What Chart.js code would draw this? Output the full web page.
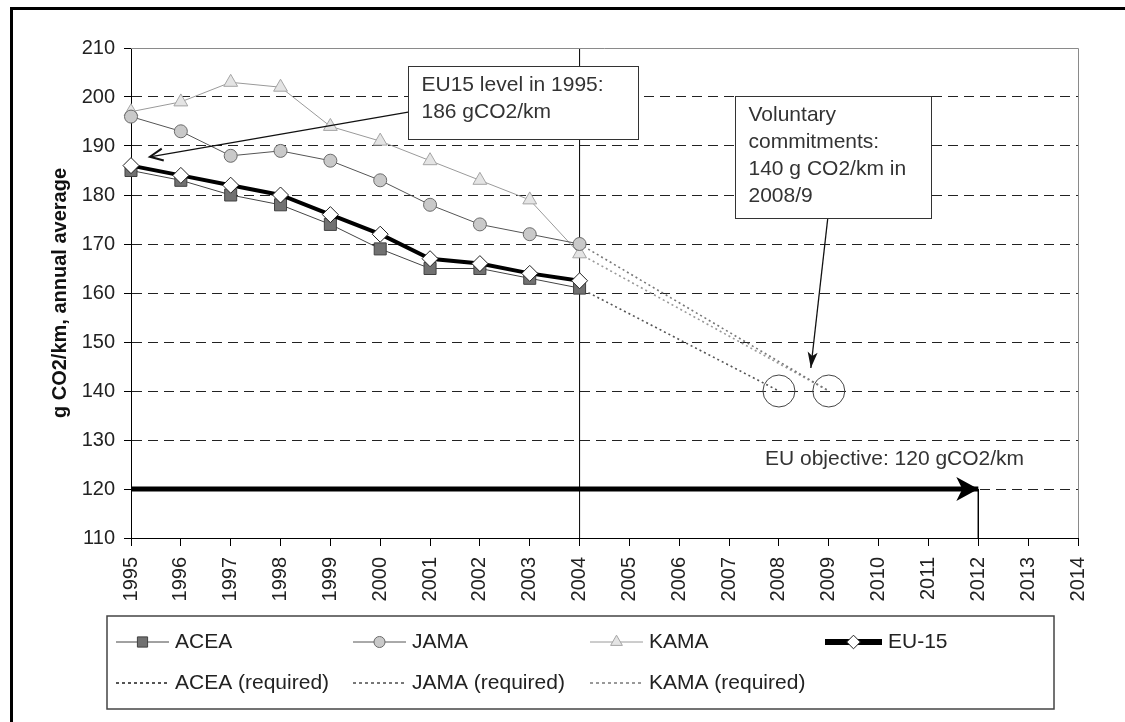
<!DOCTYPE html>
<html>
<head>
<meta charset="utf-8">
<title>CO2 emissions of new cars</title>
<script src="https://cdn.jsdelivr.net/npm/chart.js@4.4.1/dist/chart.umd.min.js"></script>
<style>
    html, body { margin: 0; padding: 0; background: #fff; overflow: hidden; }
    #wrap { position: relative; width: 1125px; height: 722px; overflow: hidden; background: #fff; }
    #frame {
        position: absolute; left: 10px; top: 7px; width: 1200px; height: 800px;
        border-left: 3px solid #000; border-top: 3px solid #000;
    }
    #myChart { position: absolute; left: 0; top: 0; display: block; }
</style>
</head>
<body>
<div id="wrap"><div id="frame"></div><canvas id="myChart" width="1125" height="722"></canvas></div>
<script>
// ---- data ----
const years = [1995, 1996, 1997, 1998, 1999, 2000, 2001, 2002, 2003, 2004];
const acea = [185, 183, 180, 178, 174, 169, 165, 165, 163, 161];
const jama = [196, 193, 188, 189, 187, 183, 178, 174, 172, 170];
const kama = [197, 199, 203, 202, 194, 191, 187, 183, 179, 168];
const eu15 = [186, 184, 182, 180, 176, 172, 167, 166, 164, 162.5];

const aceaRequiredYears = [2004, 2008];
const aceaRequired = [161, 140];
const jamaRequiredYears = [2004, 2009];
const jamaRequired = [170, 140];
const kamaRequiredYears = [2004, 2009];
const kamaRequired = [168, 140];

const targetYears = [2008, 2009];
const targetValues = [140, 140];

const objectiveYears = [1995, 2012];
const objectiveValue = 120;
const markerYear = 2004;

const xMin = 1995, xMax = 2014, xStep = 1;
const yMin = 110, yMax = 210, yStep = 10;

const FONT = "'Liberation Sans', Arial, Helvetica, sans-serif";
Chart.defaults.font.family = FONT;
Chart.defaults.color = '#222';

function pts(xs, ys) {
    return xs.map((x, i) => ({ x: x, y: ys[i] }));
}

// callouts placed in data units, mapped through the scales when drawn
const callouts = [
    {
        box: [2000.56, 206.3, 2005.17, 191.4],
        lines: ['EU15 level in 1995:', '186 gCO2/km'],
        from: [2000.56, 196.9], to: [1995.38, 187.8], head: 'open'
    },
    {
        box: [2007.12, 200.2, 2011.05, 175.3],
        lines: ['Voluntary', 'commitments:', '140 g CO2/km in', '2008/9'],
        from: [2008.98, 175.3], to: [2008.64, 144.7], head: 'filled'
    }
];
const objectiveLabel = { x: 2007.72, y: 126.1, text: 'EU objective: 120 gCO2/km' };

// legend layout (pixels)
const legendBox = { x: 107, y: 616, w: 947, h: 93 };
const legendRows = [
    { y: 642, items: [['ACEA', 116, 53], ['JAMA', 353, 53], ['KAMA', 590, 53], ['EU-15', 825, 57]] },
    { y: 683, items: [['ACEA (required)', 116, 53], ['JAMA (required)', 353, 53], ['KAMA (required)', 590, 53]] }
];

function arrowHead(ctx, x1, y1, x2, y2, len, half, notch, filled) {
    const ang = Math.atan2(y2 - y1, x2 - x1);
    const c = Math.cos(ang), s = Math.sin(ang);
    const bx = x2 - c * len, by = y2 - s * len;
    const p1 = [bx - s * half, by + c * half];
    const p2 = [bx + s * half, by - c * half];
    ctx.beginPath();
    if (filled) {
        ctx.moveTo(x2, y2);
        ctx.lineTo(p1[0], p1[1]);
        ctx.lineTo(x2 - c * (len - notch), y2 - s * (len - notch));
        ctx.lineTo(p2[0], p2[1]);
        ctx.closePath();
        ctx.fill();
    } else {
        ctx.moveTo(p1[0], p1[1]);
        ctx.lineTo(x2, y2);
        ctx.lineTo(p2[0], p2[1]);
        ctx.stroke();
    }
    ctx.beginPath();
}

const overlay = {
    id: 'overlay',
    afterDraw(chart) {
        const ctx = chart.ctx;
        const a = chart.chartArea;
        const xs = chart.scales.x, ys = chart.scales.y;
        const px = v => xs.getPixelForValue(v);
        const py = v => ys.getPixelForValue(v);
        ctx.save();

        // plot frame, top and right
        const t = Math.round(a.top) + 0.5, r = Math.round(a.right) + 0.5;
        ctx.strokeStyle = '#8a8a8a';
        ctx.lineWidth = 1;
        ctx.beginPath();
        ctx.moveTo(a.left, t);
        ctx.lineTo(r, t);
        ctx.lineTo(r, a.bottom);
        ctx.stroke();

        // head of the objective arrow
        ctx.fillStyle = '#000';
        arrowHead(ctx, px(objectiveYears[0]), py(objectiveValue),
            px(objectiveYears[1]), py(objectiveValue), 22, 12, 6, true);

        // callouts
        callouts.forEach(c => {
            const x1 = px(c.from[0]), y1 = py(c.from[1]);
            const x2 = px(c.to[0]), y2 = py(c.to[1]);
            ctx.strokeStyle = '#111';
            ctx.fillStyle = '#111';
            ctx.lineWidth = 1.3;
            ctx.beginPath();
            ctx.moveTo(x1, y1);
            ctx.lineTo(x2, y2);
            ctx.stroke();
            if (c.head === 'open') {
                ctx.lineWidth = 2;
                arrowHead(ctx, x1, y1, x2, y2, 13, 6, 0, false);
            } else {
                arrowHead(ctx, x1, y1, x2, y2, 16, 5, 4, true);
            }
            const bx = Math.round(px(c.box[0])) + 0.5, by = Math.round(py(c.box[1])) + 0.5;
            const bw = Math.round(px(c.box[2]) - px(c.box[0]));
            const bh = Math.round(py(c.box[3]) - py(c.box[1]));
            ctx.fillStyle = '#fff';
            ctx.fillRect(bx, by, bw, bh);
            ctx.strokeStyle = '#333';
            ctx.lineWidth = 1;
            ctx.strokeRect(bx, by, bw, bh);
            ctx.fillStyle = '#333';
            ctx.font = '21px ' + FONT;
            ctx.textBaseline = 'middle';
            ctx.textAlign = 'left';
            c.lines.forEach((line, i) => ctx.fillText(line, bx + 13, by + 19 + i * 27));
        });

        ctx.fillStyle = '#333';
        ctx.font = '21px ' + FONT;
        ctx.textBaseline = 'middle';
        ctx.fillText(objectiveLabel.text, px(objectiveLabel.x), py(objectiveLabel.y));

        // legend
        ctx.fillStyle = '#fff';
        ctx.fillRect(legendBox.x, legendBox.y, legendBox.w, legendBox.h);
        ctx.strokeStyle = '#444';
        ctx.lineWidth = 1.5;
        ctx.strokeRect(legendBox.x, legendBox.y, legendBox.w, legendBox.h);
        legendRows.forEach(row => {
            row.items.forEach(([label, x0, len]) => {
                const ds = chart.data.datasets.find(d => d.label === label);
                ctx.save();
                ctx.strokeStyle = ds.borderColor;
                ctx.lineWidth = label === 'EU-15' ? 6 : (ds.borderDash ? 2 : ds.borderWidth);
                ctx.setLineDash(ds.borderDash ? [3, 3] : []);
                ctx.beginPath();
                ctx.moveTo(x0, row.y);
                ctx.lineTo(x0 + len, row.y);
                ctx.stroke();
                ctx.setLineDash([]);
                if (ds.pointRadius > 0) {
                    ctx.fillStyle = ds.pointBackgroundColor;
                    ctx.strokeStyle = ds.pointBorderColor;
                    ctx.lineWidth = ds.pointBorderWidth;
                    Chart.helpers.drawPoint(ctx, {
                        pointStyle: ds.pointStyle, radius: ds.pointRadius * 0.85,
                        borderWidth: ds.pointBorderWidth, rotation: 0
                    }, x0 + len / 2, row.y);
                }
                ctx.restore();
                ctx.fillStyle = '#222';
                ctx.font = '21px ' + FONT;
                ctx.textBaseline = 'middle';
                ctx.fillText(label, x0 + len + 6, row.y);
            });
        });
        ctx.beginPath();
        ctx.restore();
    }
};

let ctx = document.getElementById('myChart').getContext('2d');
let myChart = new Chart(ctx, {
    type: 'line',
    data: {
        datasets: [
            {
                label: 'EU-15', data: pts(years, eu15), order: 0,
                borderColor: '#000', borderWidth: 4,
                pointStyle: 'rectRot', pointRadius: 8,
                pointBackgroundColor: '#fff', pointBorderColor: '#222', pointBorderWidth: 1
            },
            {
                label: 'ACEA', data: pts(years, acea), order: 1,
                borderColor: '#444', borderWidth: 1,
                pointStyle: 'rect', pointRadius: 8.5,
                pointBackgroundColor: '#717171', pointBorderColor: '#404040', pointBorderWidth: 1
            },
            {
                label: 'JAMA', data: pts(years, jama), order: 2,
                borderColor: '#555', borderWidth: 1,
                pointStyle: 'circle', pointRadius: 6.5,
                pointBackgroundColor: '#c9c9c9', pointBorderColor: '#6a6a6a', pointBorderWidth: 1
            },
            {
                label: 'KAMA', data: pts(years, kama), order: 3,
                borderColor: '#9a9a9a', borderWidth: 1,
                pointStyle: 'triangle', pointRadius: 8,
                pointBackgroundColor: '#e4e4e4', pointBorderColor: '#a5a5a5', pointBorderWidth: 1
            },
            {
                label: 'ACEA (required)', data: pts(aceaRequiredYears, aceaRequired), order: 4,
                borderColor: '#555', borderWidth: 1.6, borderDash: [2, 3], pointRadius: 0
            },
            {
                label: 'JAMA (required)', data: pts(jamaRequiredYears, jamaRequired), order: 4,
                borderColor: '#777', borderWidth: 1.6, borderDash: [2, 3], pointRadius: 0
            },
            {
                label: 'KAMA (required)', data: pts(kamaRequiredYears, kamaRequired), order: 4,
                borderColor: '#999', borderWidth: 1.6, borderDash: [2, 3], pointRadius: 0
            },
            {
                label: 'targets', data: pts(targetYears, targetValues), order: 5, showLine: false,
                pointStyle: 'circle', pointRadius: 16,
                pointBackgroundColor: 'rgba(0,0,0,0)', pointBorderColor: '#444', pointBorderWidth: 1
            },
            {
                label: 'objective', data: pts(objectiveYears, [objectiveValue, objectiveValue]), order: 8,
                borderColor: '#000', borderWidth: 5, pointRadius: 0
            },
            {
                label: 'objective year', data: pts([objectiveYears[1], objectiveYears[1]], [objectiveValue, yMin]), order: 8,
                borderColor: '#000', borderWidth: 1, pointRadius: 0
            },
            {
                label: 'last year', data: pts([markerYear, markerYear], [yMin, yMax]), order: 9,
                borderColor: '#000', borderWidth: 1, pointRadius: 0
            }
        ]
    },
    options: {
        responsive: false,
        animation: false,
        events: [],
        layout: { padding: { top: 48, right: 47, left: 0, bottom: 0 } },
        datasets: { line: { clip: false } },
        plugins: {
            legend: { display: false },
            tooltip: { enabled: false }
        },
        scales: {
            x: {
                type: 'linear',
                min: xMin, max: xMax,
                afterFit: function (scale) { scale.height = 184; },
                ticks: {
                    stepSize: xStep, autoSkip: false,
                    minRotation: 90, maxRotation: 90,
                    padding: 11, color: '#222',
                    font: { size: 20 },
                    callback: v => String(v)
                },
                grid: { drawOnChartArea: false, drawTicks: true, tickLength: 8, tickColor: '#000' },
                border: { color: '#000', width: 1 }
            },
            y: {
                min: yMin, max: yMax,
                afterFit: function (scale) { scale.width = 131; },
                ticks: { stepSize: yStep, padding: 9, color: '#222', font: { size: 20 } },
                grid: {
                    color: c => (c.tick.value === yMin || c.tick.value === yMax) ? 'rgba(0,0,0,0)' : '#222',
                    tickColor: '#000', tickLength: 7, lineWidth: 1
                },
                border: { color: '#000', width: 1, dash: [10, 6] },
                title: {
                    display: true,
                    text: 'g CO2/km, annual average',
                    color: '#111',
                    font: { size: 20, weight: 'bold' },
                    padding: { top: 48, bottom: 0 }
                }
            }
        }
    },
    plugins: [overlay]
});
</script>
</body>
</html>
